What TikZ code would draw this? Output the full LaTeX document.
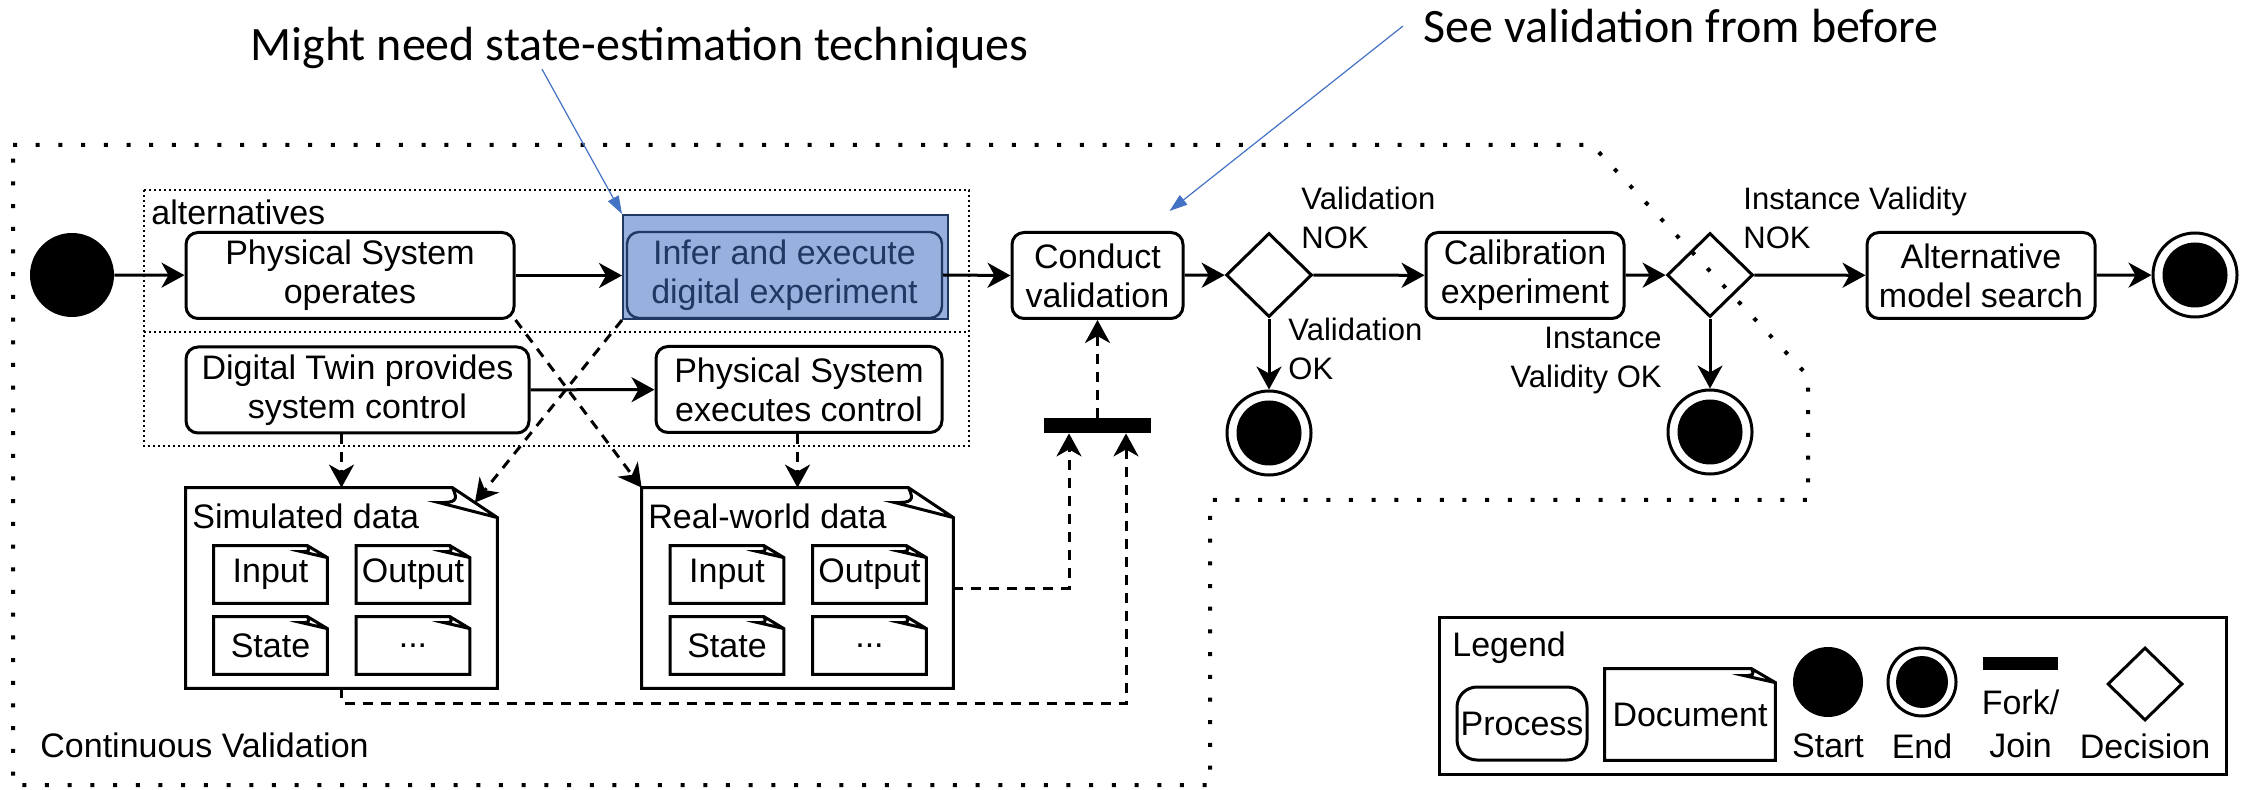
\documentclass[tikz,border=0pt]{standalone}
\usepackage{fontspec}
\setmainfont{Liberation Sans}
\newfontfamily\notefont{Carlito}
\usetikzlibrary{arrows.meta,shapes.geometric}

\definecolor{hlfill}{RGB}{152,176,222}
\definecolor{hlnavy}{RGB}{31,56,100}
\definecolor{noteblue}{RGB}{68,114,196}

% document outline with a curled corner: node, fold width, fold height
\newcommand{\docfold}[3]{%
  \draw[docline] (#1.north west) -- ([xshift=-#2]#1.north east) -- ([yshift=-#3]#1.north east)
      -- (#1.south east) -- (#1.south west) -- cycle
    ([xshift=-#2]#1.north east) .. controls +(0.15*#2,-0.45*#3) and +(0.35*#2,0)
      .. ([xshift=-1.3*#2,yshift=-0.5*#3]#1.north east) -- ([yshift=-#3]#1.north east);}

\begin{document}
\begin{tikzpicture}[x=0.5pt,y=-0.5pt,font=\fontsize{17}{19.5}\selectfont,
    proc/.style={draw,line width=1.5pt,rounded corners=6pt,align=center,inner sep=0pt,minimum height=43pt},
    decision/.style={diamond,draw,line width=1.5pt,inner sep=0pt,minimum width=43pt,minimum height=42pt},
    startnode/.style={circle,fill,inner sep=0pt,minimum size=42pt},
    endnode/.style={circle,draw,line width=1.5pt,inner sep=0pt,minimum size=42pt,
        path picture={\fill (path picture bounding box.center) circle (16.25pt);}},
    forkbar/.style={fill,inner sep=0pt,minimum width=53.5pt,minimum height=7.5pt},
    docbox/.style={inner sep=0pt},
    docline/.style={line width=1.5pt,line join=miter},
    smalldoc/.style={docbox,minimum width=56.5pt,minimum height=28.5pt},
    flow/.style={line width=1.5pt,-{Stealth[length=11.5pt,width=12.5pt,inset=3.5pt]}},
    dataflow/.style={flow,dash pattern=on 5pt off 4pt},
    guard/.style={font=\fontsize{15.5}{19.5}\selectfont,inner sep=0pt},
    note/.style={font=\notefont\fontsize{24}{28}\selectfont,inner sep=0pt},
    noteline/.style={noteblue,line width=0.6pt,-{Triangle[length=9pt,width=6pt]}}]

    \useasboundingbox (0,0) rectangle (2252,790);

    % continuous validation frame and alternatives
    \draw[line width=2pt,dash pattern=on 2pt off 9.35pt] (13,145) -- (1592,145) -- (1808,376)
        -- (1808,500) -- (1210,500) -- (1210,785) -- (13,785) -- cycle;
    \draw[line width=1pt,dash pattern=on 1pt off 1.5pt] (144,190) rectangle (969,446);
    \draw[line width=1pt,dash pattern=on 1pt off 1.5pt] (144,332) -- (969,332);
    \node[anchor=west,inner sep=0pt] (altlabel) at (151,212) {alternatives};
    \node[anchor=west,inner sep=0pt] (cvlabel) at (40,745) {Continuous Validation};

    % main line
    \node[startnode] (start) at (72,275) {};
    \node[proc,minimum width=164pt] (psop) at (350,275.5) {Physical System\\operates};
    \node[draw=hlnavy,fill=hlfill,line width=1pt,inner sep=0pt,minimum width=162.5pt,minimum height=52pt] (hl) at (785.5,267) {};
    \node[proc,draw=hlnavy,text=hlnavy,line width=1.2pt,minimum width=157.5pt] (infer) at (784.5,275) {Infer and execute\\digital experiment};
    \node[proc,minimum width=85.5pt] (cv) at (1097.5,275.5) {Conduct\\validation};
    \node[decision] (d1) at (1269,275) {};
    \node[proc,minimum width=99pt] (cal) at (1525,275.5) {Calibration\\experiment};
    \node[decision] (d2) at (1710,275) {};
    \node[proc,minimum width=114pt] (alt) at (1981,275.5) {Alternative\\model search};
    \node[endnode] (fin) at (2195,275) {};
    \node[endnode] (fin1) at (1269,433) {};
    \node[endnode] (fin2) at (1710,432) {};

    \node[proc,minimum width=171.5pt] (dt) at (357.5,390) {Digital Twin provides\\system control};
    \node[proc,minimum width=143pt] (psx) at (799,389.5) {Physical System\\executes control};
    \node[forkbar] (bar) at (1097.5,425.5) {};

    % data documents
    \node[docbox,minimum width=155.5pt,minimum height=100pt] (sim) at (341.5,588) {};
    \node[docbox,minimum width=155.5pt,minimum height=100pt] (rw) at (797.5,588) {};
    \docfold{sim}{22.5pt}{15pt}
    \docfold{rw}{22.5pt}{15pt}
    \node[anchor=west,inner sep=0pt] (simlabel) at (192,516) {Simulated data};
    \node[anchor=west,inner sep=0pt] (rwlabel) at (648,516) {Real-world data};
    \foreach \pre/\x in {s/270.5,r/727}{
        \node[smalldoc] (\pre-in) at (\x,574.5) {Input};
        \node[smalldoc] (\pre-out) at (\x+142.5,574.5) {Output};
        \node[smalldoc] (\pre-st) at (\x,645.5) {State};
        \node[smalldoc] (\pre-etc) at (\x+142.5,645.5) {...};
        \foreach \d in {in,out,st,etc}{\docfold{\pre-\d}{10pt}{6pt}}
    }

    % control flow
    \draw[flow] (start) -- (psop);
    \draw[flow] (psop.east) -- (psop.east -| hl.west);
    \draw[flow] (infer.east) -- (cv.west);
    \draw[flow] (cv) -- (d1);
    \draw[flow] (d1) -- (cal);
    \draw[flow] (cal) -- (d2);
    \draw[flow] (d2) -- (alt);
    \draw[flow] (alt) -- (fin);
    \draw[flow] (d1) -- (fin1);
    \draw[flow] (d2) -- (fin2);
    \draw[flow] (dt) -- (psx);

    % data flow
    \draw[dataflow] (sim.north |- dt.south) -- (sim.north);
    \draw[dataflow] (hl.south west) -- ([xshift=-11.25pt,yshift=-7.5pt]sim.north east);
    \draw[dataflow] (psop.south east) -- (rw.north west);
    \draw[dataflow] (rw.north |- psx.south) -- (rw.north);
    \draw[dataflow] (rw.east) -| ([xshift=-14.25pt]bar.south);
    \draw[dataflow] (sim.south) -- ++(0,15) -| ([xshift=14.25pt]bar.south);
    \draw[dataflow] (bar) -- (cv);

    % guards
    \node[guard,anchor=west,align=left] (nok1) at (1301,217.5) {Validation\\NOK};
    \node[guard,anchor=west,align=left] (ok1) at (1288,349) {Validation\\OK};
    \node[guard,anchor=west,align=left] (nok2) at (1743,217.5) {Instance Validity\\NOK};
    \node[guard,anchor=east,align=right] (ok2) at (1662,361) {Instance\\Validity OK};

    % notes
    \node[note] (mightnote) at (639.5,48) {Might need state-estimation techniques};
    \node[note,anchor=west] (seenote) at (1423,26) {See validation from before};
    \draw[noteline] ([xshift=-48.75pt]mightnote.south) -- (hl.north west);
    \draw[noteline] ([xshift=-10pt]seenote.west) -- ([xshift=-7.5pt,yshift=10pt]cv.north east);

    % legend
    \node[draw,line width=1.5pt,inner sep=0pt,minimum width=393.5pt,minimum height=78.5pt] (legbox) at (1832.5,695.5) {};
    \node[anchor=west,inner sep=0pt] (legtitle) at (1452,648) {Legend};
    \node[proc,rounded corners=10pt,minimum width=65pt,minimum height=36.5pt] (legproc) at (1522,723.5) {Process};
    \node[docbox,minimum width=85pt,minimum height=45.5pt] (legdoc) at (1690,714.5) {Document};
    \docfold{legdoc}{12pt}{7pt}
    \node[startnode,minimum size=35pt] (legstart) at (1828,682) {};
    \node[endnode,minimum size=34pt,path picture={\fill (path picture bounding box.center) circle (13pt);}] (legfin) at (1922,682) {};
    \node[forkbar,minimum width=37.5pt,minimum height=6.5pt] (legfork) at (2020.5,663.5) {};
    \node[decision,minimum width=37.5pt,minimum height=36.5pt] (legdec) at (2145,684) {};
    \node[inner sep=0pt] (legstartlbl) at (1828,746) {Start};
    \node[inner sep=0pt] (legfinlbl) at (1922,746) {End};
    \node[inner sep=0pt,align=center,font=\fontsize{17}{21.5}\selectfont] (legforklbl) at (2020.5,723.5) {Fork/\\Join};
    \node[inner sep=0pt] (legdeclbl) at (2145,746) {Decision};
\end{tikzpicture}
\end{document}
